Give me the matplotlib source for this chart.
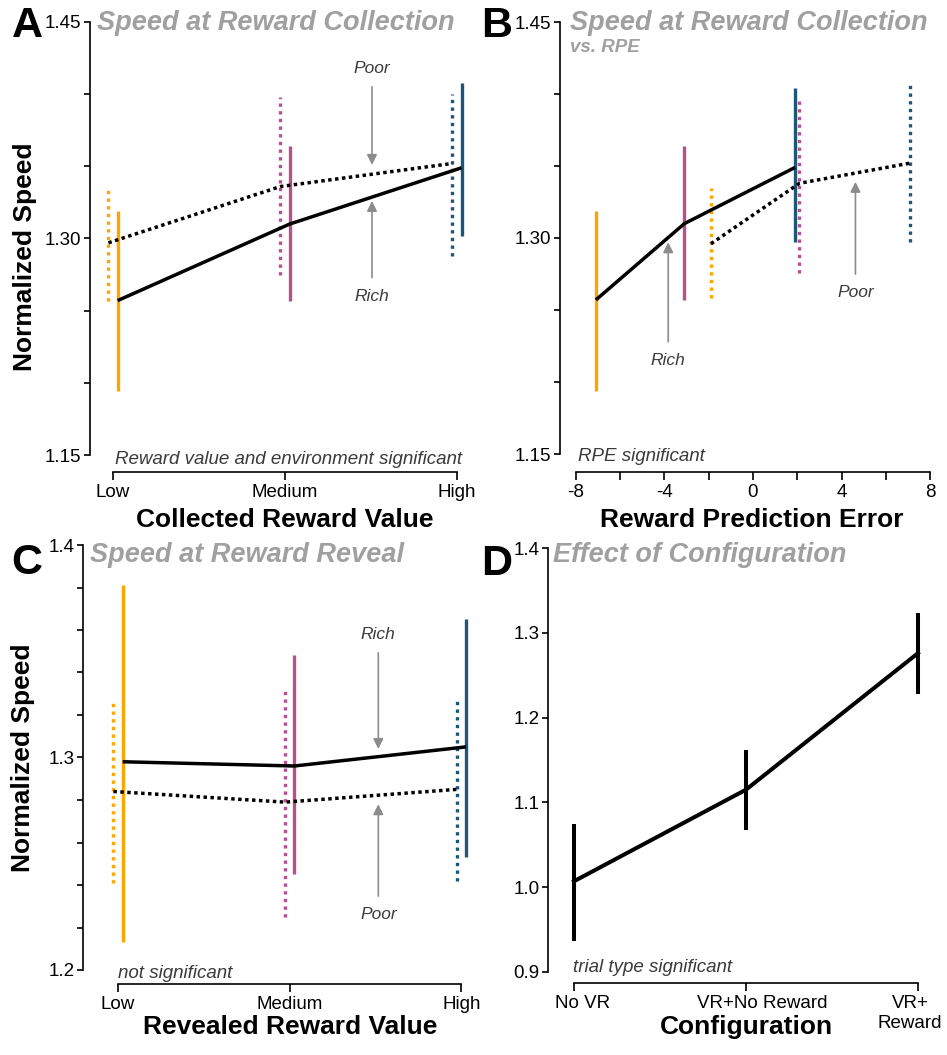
import matplotlib
matplotlib.use("Agg")
import matplotlib.pyplot as plt
from matplotlib.transforms import ScaledTranslation

plt.rcParams['font.family'] = ['Liberation Sans', 'DejaVu Sans']

W, H = 947, 1055

# colour per reward level: low, medium, high
level_colors = ['#FFA500', '#B8508C', '#1B5878']

# A: speed at reward collection vs collected reward value
value_labels = ['Low', 'Medium', 'High']
a_rich = [1.257, 1.310, 1.349]
a_rich_lo = [1.194, 1.257, 1.302]
a_rich_hi = [1.319, 1.364, 1.408]
a_poor = [1.297, 1.336, 1.352]
a_poor_lo = [1.257, 1.275, 1.288]
a_poor_hi = [1.335, 1.398, 1.400]

# B: the same speeds against reward prediction error
b_rich_rpe = [-7.1, -3.1, 1.9]
b_poor_rpe = [-1.9, 2.1, 7.1]
b_rich = [1.257, 1.310, 1.349]
b_rich_lo = [1.194, 1.257, 1.297]
b_rich_hi = [1.319, 1.364, 1.404]
b_poor = [1.296, 1.338, 1.352]
b_poor_lo = [1.258, 1.276, 1.297]
b_poor_hi = [1.335, 1.398, 1.408]
rpe_ticks = [-8, -6, -4, -2, 0, 2, 4, 6, 8]
rpe_labels = ['-8', '', '-4', '', '0', '', '4', '', '8']

# C: speed at reward reveal
c_rich = [1.298, 1.296, 1.305]
c_rich_lo = [1.213, 1.245, 1.253]
c_rich_hi = [1.381, 1.348, 1.365]
c_poor = [1.284, 1.279, 1.285]
c_poor_lo = [1.241, 1.225, 1.242]
c_poor_hi = [1.327, 1.333, 1.327]

# D: effect of configuration
config_labels = ['No VR', 'VR+No Reward', 'VR+\nReward']
d_speed = [1.007, 1.115, 1.276]
d_lo = [0.936, 1.067, 1.228]
d_hi = [1.074, 1.162, 1.323]

DODGE = 0.027
DOT_BAR = (0, (1, 1.3))
DOT_LINE = (0, (1, 1))
TITLE_GREY = '#a0a0a0'
NOTE_GREY = '#3a3a3a'

fig = plt.figure(figsize=(W / 100, H / 100), dpi=100)


def px_axes(left, top, right, bottom):
    return fig.add_axes([left / W, 1 - bottom / H, (right - left) / W, (bottom - top) / H])


def ftext(x, y, s, **kw):
    fig.text(x / W, 1 - y / H, s, **kw)


def style_axes(ax, ybounds, xbounds, offset):
    ax.spines['top'].set_visible(False)
    ax.spines['right'].set_visible(False)
    ax.spines['left'].set_bounds(*ybounds)
    ax.spines['bottom'].set_bounds(*xbounds)
    ax.spines['bottom'].set_position(('outward', offset))
    for s in ['left', 'bottom']:
        ax.spines[s].set_linewidth(1.2)
    ax.tick_params(axis='y', labelsize=13.5, width=1.2, length=4.3, pad=2)
    ax.tick_params(axis='x', labelsize=13.5, width=1.2, length=5.8, pad=3)
    ax.patch.set_alpha(0)


def draw_env(ax, x, mean, lo, hi, dotted):
    ax.vlines(x, lo, hi, colors=level_colors, lw=2.4,
              linestyles=DOT_BAR if dotted else 'solid', zorder=2)
    ax.plot(x, mean, color='black', lw=2.5, ls=DOT_LINE if dotted else '-',
            solid_capstyle='butt', zorder=3)


def note(ax, text, x, y_text, y_tip):
    ax.annotate(text, xy=(x, y_tip), xytext=(x, y_text), ha='center', va='center',
                fontsize=12.5, style='italic', color=NOTE_GREY,
                arrowprops=dict(arrowstyle='-|>,head_length=0.6,head_width=0.3',
                                color='#8c8c8c', lw=1.2, shrinkA=6, shrinkB=0,
                                mutation_scale=10))


def sig_text(ax, x, y, s):
    ax.text(x, y, s, ha='left', va='center', fontsize=13.5, style='italic',
            color=NOTE_GREY, clip_on=False)


cats = [0, 1, 2]
rich_x = [c + DODGE for c in cats]
poor_x = [c - DODGE for c in cats]

# ---- A
ax = px_axes(90, 22, 470, 455)
draw_env(ax, poor_x, a_poor, a_poor_lo, a_poor_hi, True)
draw_env(ax, rich_x, a_rich, a_rich_lo, a_rich_hi, False)
ax.set_xlim(-0.134, 2.076)
ax.set_ylim(1.15, 1.45)
ax.set_yticks([1.15, 1.20, 1.25, 1.30, 1.35, 1.40, 1.45])
ax.set_yticklabels(['1.15', '', '', '1.30', '', '', '1.45'])
ax.set_xticks(cats)
ax.set_xticklabels(value_labels)
style_axes(ax, (1.15, 1.45), (0, 2), 12.2)
note(ax, 'Poor', 1.506, 1.418, 1.351)
note(ax, 'Rich', 1.506, 1.260, 1.326)
sig_text(ax, 0.01, 1.147, 'Reward value and environment significant')

# ---- B
ax = px_axes(560, 22, 940, 454)
draw_env(ax, b_poor_rpe, b_poor, b_poor_lo, b_poor_hi, True)
draw_env(ax, b_rich_rpe, b_rich, b_rich_lo, b_rich_hi, False)
ax.set_xlim(-8.72, 8.45)
ax.set_ylim(1.15, 1.45)
ax.set_yticks([1.15, 1.20, 1.25, 1.30, 1.35, 1.40, 1.45])
ax.set_yticklabels(['1.15', '', '', '1.30', '', '', '1.45'])
ax.set_xticks(rpe_ticks)
ax.set_xticklabels(rpe_labels)
style_axes(ax, (1.15, 1.45), (-8, 8), 13)
note(ax, 'Rich', -3.83, 1.215, 1.297)
note(ax, 'Poor', 4.63, 1.262, 1.339)
sig_text(ax, -7.9, 1.148, 'RPE significant')

# ---- C
ax = px_axes(83, 545, 470, 970)
draw_env(ax, poor_x, c_poor, c_poor_lo, c_poor_hi, True)
draw_env(ax, rich_x, c_rich, c_rich_lo, c_rich_hi, False)
ax.set_xlim(-0.204, 2.05)
ax.set_ylim(1.2, 1.4)
ax.set_yticks([1.20, 1.22, 1.24, 1.26, 1.28, 1.30, 1.32, 1.34, 1.36, 1.38, 1.40])
ax.set_yticklabels(['1.2', '', '', '', '', '1.3', '', '', '', '', '1.4'])
ax.set_xticks(cats)
ax.set_xticklabels(value_labels)
style_axes(ax, (1.2, 1.4), (0, 2), 10)
note(ax, 'Rich', 1.516, 1.358, 1.304)
note(ax, 'Poor', 1.516, 1.226, 1.278)
sig_text(ax, 0.0, 1.1985, 'not significant')

# ---- D
ax = px_axes(548, 548, 940, 972)
ax.vlines(cats, d_lo, d_hi, colors='black', lw=2.9, zorder=2)
ax.plot(cats, d_speed, color='black', lw=2.9, zorder=3)
ax.set_xlim(-0.151, 2.128)
ax.set_ylim(0.9, 1.4)
ax.set_yticks([0.9, 1.0, 1.1, 1.2, 1.3, 1.4])
ax.set_yticklabels(['0.9', '1.0', '1.1', '1.2', '1.3', '1.4'])
ax.set_xticks(cats)
ax.set_xticklabels(config_labels)
style_axes(ax, (0.9, 1.4), (0, 2), 8)
# nudge the category names sideways so the last one stays on the page
for lab, dx in zip(ax.get_xticklabels(), [9, 16, -8]):
    lab.set_transform(lab.get_transform() + ScaledTranslation(dx / 100, 0, fig.dpi_scale_trans))
sig_text(ax, -0.006, 0.905, 'trial type significant')

# titles, panel letters and axis names
title_kw = dict(fontsize=19.5, weight='bold', style='italic', color=TITLE_GREY, va='center')
ftext(97, 23, 'Speed at Reward Collection', **title_kw)
ftext(570, 23, 'Speed at Reward Collection', **title_kw)
ftext(570, 48, 'vs. RPE', fontsize=13.5, weight='bold', style='italic', color=TITLE_GREY, va='center')
ftext(90, 555, 'Speed at Reward Reveal', **title_kw)
ftext(553, 555, 'Effect of Configuration', **title_kw)

letter_kw = dict(fontsize=31, weight='bold', ha='center', va='center')
ftext(27, 26, 'A', **letter_kw)
ftext(497, 26, 'B', **letter_kw)
ftext(27, 563, 'C', **letter_kw)
ftext(497, 564, 'D', **letter_kw)

label_kw = dict(fontsize=19, weight='bold', ha='center', va='center')
ftext(25, 257, 'Normalized Speed', rotation=90, **label_kw)
ftext(23, 758, 'Normalized Speed', rotation=90, **label_kw)
ftext(285, 520, 'Collected Reward Value', **label_kw)
ftext(752, 520, 'Reward Prediction Error', **label_kw)
ftext(290, 1027, 'Revealed Reward Value', **label_kw)
ftext(746, 1027, 'Configuration', **label_kw)

fig.savefig('out.png', dpi=100)
